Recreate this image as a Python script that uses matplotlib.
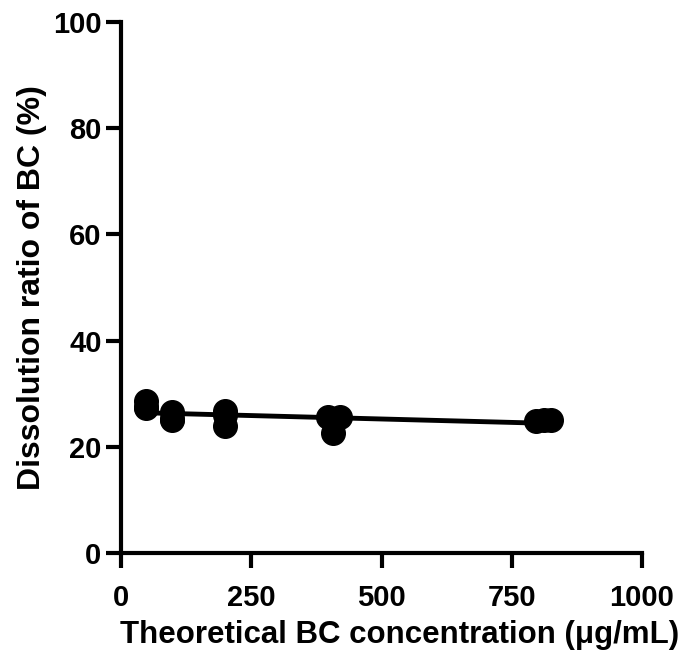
import numpy as np
import matplotlib
matplotlib.use("Agg")
import matplotlib.pyplot as plt

plt.rcParams['font.family'] = ['Liberation Sans', 'DejaVu Sans']
plt.rcParams['font.weight'] = 'bold'

# Data
conc = [48, 48, 48, 98, 98, 98, 200, 200, 200, 397, 407, 420, 797, 812, 825]
ratio = [28.6, 27.5, 27.3, 26.6, 25.3, 25.0, 26.8, 26.0, 24.0, 25.6, 22.6, 25.6, 24.8, 25.0, 25.1]
xticks = [0, 250, 500, 750, 1000]
yticks = [0, 20, 40, 60, 80, 100]

fig = plt.figure(figsize=(6.81, 6.61), dpi=100)
ax = fig.add_axes([121/681, 1 - 553/661, (642-121)/681, (553-22)/661])

x = np.array(conc, dtype=float)
y = np.array(ratio, dtype=float)
slope, intercept = np.polyfit(x, y, 1)
xf = np.array([x.min(), x.max()])
ax.plot(xf, slope * xf + intercept, color='black', lw=3.5, zorder=2)
ax.plot(x, y, 'o', color='black', markersize=17, zorder=3)

ax.set_xlim(0, 1000)
ax.set_ylim(0, 100)
ax.set_xticks(xticks)
ax.set_yticks(yticks)
for s in ['top', 'right']:
    ax.spines[s].set_visible(False)
for s in ['left', 'bottom']:
    ax.spines[s].set_linewidth(3)
ax.tick_params(axis='x', width=3, length=11, labelsize=21, pad=11)
ax.tick_params(axis='y', width=3, length=11, labelsize=21, pad=3)
for lab in ax.get_xticklabels() + ax.get_yticklabels():
    lab.set_fontweight('bold')
ax.set_xlabel('Theoretical BC concentration (μg/mL)', fontsize=22.5, fontweight='bold', labelpad=6)
ax.xaxis.label.set_x(0.535)
ax.set_ylabel('Dissolution ratio of BC (%)', fontsize=23, fontweight='bold', labelpad=4)

fig.savefig('out.png', dpi=100)
